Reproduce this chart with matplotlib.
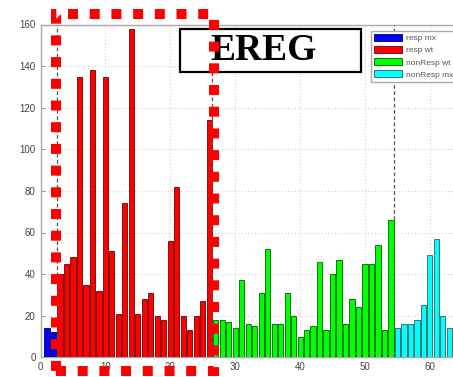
import numpy as np
import matplotlib
matplotlib.use("Agg")
import matplotlib.pyplot as plt
from matplotlib.patches import Rectangle

# ---- data ----
series_names = ["resp mx", "resp wt", "nonResp wt", "nonResp mx"]
resp_mx = [14, 12]
resp_wt = [40, 45, 48, 135, 35, 138, 32, 135, 51, 21, 74, 158, 21, 28, 31, 20,
           18, 56, 82, 20, 13, 20, 27, 114]
nonresp_wt = [18, 18, 17, 14, 37, 16, 15, 31, 52, 16, 16, 31, 20, 10, 13, 15,
              46, 13, 40, 47, 16, 28, 24, 45, 45, 54, 13, 66]
nonresp_mx = [14, 16, 16, 18, 25, 49, 57, 20, 14]
colors = ["#0000ff", "#ff0000", "#00ff00", "#00ffff"]
edges = ["#000060", "#700000", "#006000", "#306060"]
xticks = [0, 10, 20, 30, 40, 50, 60]
yticks = [0, 20, 40, 60, 80, 100, 120, 140, 160]
title_text = "EREG"

W, H = 453, 377
fig = plt.figure(figsize=(W / 100, H / 100), dpi=100)
fig.patch.set_facecolor("white")

left = 40.5 / W
bottom = (H - 357.3) / H
top_px = 24.5
width = (6.49 * 70) / W
height = (357.3 - top_px) / H
ax = fig.add_axes([left, bottom, width, height])

groups = [resp_mx, resp_wt, nonresp_wt, nonresp_mx]
start = 1
bounds = []
for vals, c, e, name in zip(groups, colors, edges, series_names):
    x = np.arange(start, start + len(vals))
    ax.bar(x, vals, width=0.8, color=c, edgecolor=e, linewidth=0.6,
           label=name, zorder=3)
    start += len(vals)
    bounds.append(start - 0.5)

for b in bounds[:-1]:
    ax.axvline(b, color="#555555", linestyle=(0, (3, 2)), linewidth=0.9, zorder=4)

ax.set_xlim(0, 70)
ax.set_ylim(0, 160)
ax.set_xticks(xticks)
ax.set_yticks(yticks)
ax.grid(True, color="#cfcfcf", linestyle=(0, (1, 2)), linewidth=0.8, zorder=0)
ax.tick_params(direction="in", length=3, colors="#999999", labelcolor="#444444",
               labelsize=7)
for t in ax.get_xticklabels() + ax.get_yticklabels():
    t.set_family(["Liberation Sans", "DejaVu Sans"])
for s in ax.spines.values():
    s.set_color("#aaaaaa")
    s.set_linewidth(1.0)

leg = ax.legend(loc="upper left", bbox_to_anchor=(367 / W, 1 - 27 / H),
                bbox_transform=fig.transFigure,
                prop={"family": ["Liberation Sans", "DejaVu Sans"], "size": 6},
                handlelength=3.4, handleheight=0.9, labelspacing=0.45,
                borderpad=0.35, handletextpad=0.4, fancybox=False,
                framealpha=1, edgecolor="#aaaaaa")
for txt in leg.get_texts():
    txt.set_color("#555555")

# title box
fig.patches.append(Rectangle((180 / W, 1 - 72 / H), (361 - 180) / W, (72 - 29) / H,
                             transform=fig.transFigure, fill=True,
                             facecolor="white", edgecolor="black", linewidth=1.6,
                             zorder=5))
fig.text(264 / W, 1 - 51 / H, title_text, ha="center", va="center",
         family=["Liberation Serif", "DejaVu Serif"], fontweight="bold",
         fontsize=27, color="black", zorder=6)

# red dotted highlight rectangle
fig.patches.append(Rectangle((55.5 / W, 1 - 371 / H), (214 - 55.5) / W, (371 - 14) / H,
                             transform=fig.transFigure, fill=False,
                             edgecolor="#ff0000", linewidth=7.2,
                             linestyle=(0, (1, 1.17)), zorder=7))

fig.savefig("out.png", dpi=100)
